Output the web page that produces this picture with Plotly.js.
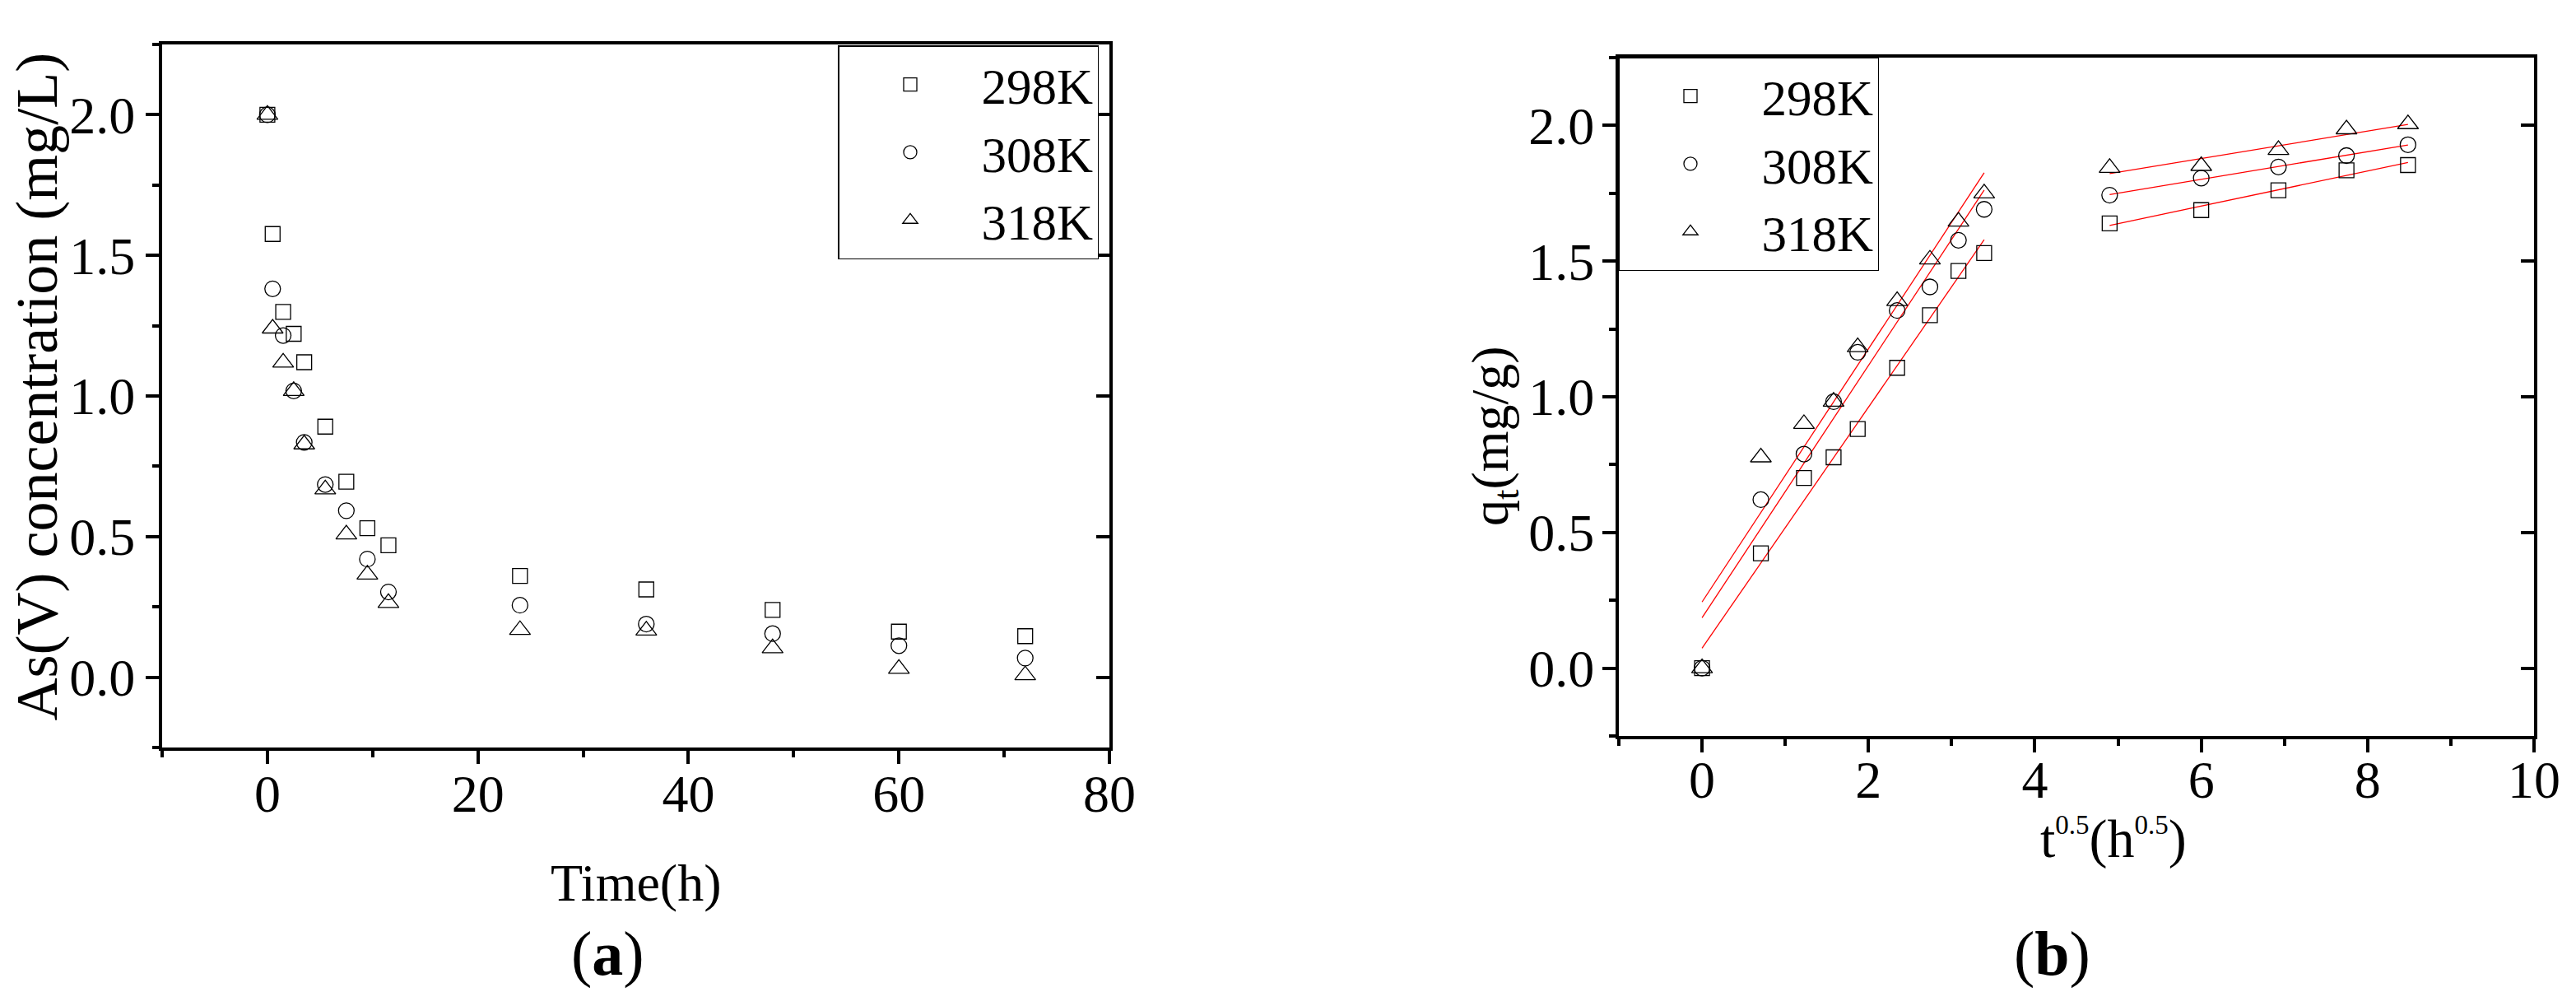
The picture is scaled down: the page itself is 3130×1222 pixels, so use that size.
<!DOCTYPE html>
<html>
<head>
<meta charset="utf-8">
<script src="https://cdn.plot.ly/plotly-3.0.1.min.js"></script>
<style>html,body{margin:0;padding:0;background:#fff;} #chart{width:3130px;height:1222px;}</style>
</head>
<body>
<div id="chart"></div>
<script>
// ---- data (a): As(V) concentration vs time ----
const timeH = [0, 0.5, 1.5, 2.5, 3.5, 5.5, 7.5, 9.5, 11.5, 24, 36, 48, 60, 72];
const conc298 = [2.0, 1.576, 1.299, 1.221, 1.120, 0.891, 0.695, 0.530, 0.469, 0.360, 0.312, 0.239, 0.162, 0.146];
const conc308 = [2.0, 1.381, 1.215, 1.018, 0.835, 0.685, 0.592, 0.420, 0.303, 0.256, 0.189, 0.155, 0.112, 0.068];
const conc318 = [2.0, 1.240, 1.119, 1.018, 0.828, 0.668, 0.508, 0.365, 0.264, 0.168, 0.166, 0.103, 0.030, 0.007];

// ---- data (b): intraparticle diffusion, qt vs t^0.5 ----
const sqrtT = [0, 0.707, 1.225, 1.581, 1.871, 2.345, 2.739, 3.082, 3.391, 4.899, 6.0, 6.928, 7.746, 8.485];
const q298 = [0, 0.423, 0.701, 0.777, 0.881, 1.107, 1.301, 1.464, 1.530, 1.639, 1.688, 1.761, 1.835, 1.854];
const q308 = [0, 0.621, 0.789, 0.982, 1.164, 1.318, 1.405, 1.577, 1.691, 1.743, 1.806, 1.847, 1.889, 1.929];
const q318 = [0, 0.777, 0.900, 0.982, 1.183, 1.353, 1.506, 1.646, 1.750, 1.844, 1.851, 1.910, 1.986, 2.005];

const seriesNames = ['298K', '308K', '318K'];
const stage1 = [0, 9];   // index range (start, end exclusive) of first linear stage
const stage2 = [9, 14];  // second linear stage

const FONT = 'Liberation Serif, Times New Roman, serif';
const symbols = ['square-open', 'circle-open', 'triangle-up-open'];
const sizes = [18, 19, 22];

function linFit(xs, ys, range) {
  const x = xs.slice(range[0], range[1]);
  const y = ys.slice(range[0], range[1]);
  const n = x.length;
  const mx = x.reduce((a, b) => a + b, 0) / n;
  const my = y.reduce((a, b) => a + b, 0) / n;
  let sxy = 0, sxx = 0;
  for (let i = 0; i < n; i++) { sxy += (x[i] - mx) * (y[i] - my); sxx += (x[i] - mx) * (x[i] - mx); }
  const b = sxy / sxx, a = my - b * mx;
  const x0 = Math.min(...x), x1 = Math.max(...x);
  return { x: [x0, x1], y: [a + b * x0, a + b * x1] };
}

const traces = [];
[conc298, conc308, conc318].forEach((c, i) => {
  traces.push({
    type: 'scatter', mode: 'markers', x: timeH, y: c, name: seriesNames[i],
    xaxis: 'x', yaxis: 'y', legend: 'legend', cliponaxis: false,
    marker: { symbol: symbols[i], size: sizes[i], color: 'black', line: { width: 1.3, color: 'black' } }
  });
});
const qSets = [q298, q308, q318];
qSets.forEach((q, i) => {
  [stage1, stage2].forEach(r => {
    const f = linFit(sqrtT, q, r);
    traces.push({
      type: 'scatter', mode: 'lines', x: f.x, y: f.y, showlegend: false, hoverinfo: 'skip',
      xaxis: 'x2', yaxis: 'y2', line: { color: 'red', width: 1.3 }
    });
  });
});
qSets.forEach((q, i) => {
  traces.push({
    type: 'scatter', mode: 'markers', x: sqrtT, y: q, name: seriesNames[i],
    xaxis: 'x2', yaxis: 'y2', legend: 'legend2', cliponaxis: false,
    marker: { symbol: symbols[i], size: sizes[i], color: 'black', line: { width: 1.3, color: 'black' } }
  });
});
// empty carriers so the right-hand (inward tick) axes get drawn
traces.push({ type: 'scatter', mode: 'markers', x: [], y: [], xaxis: 'x', yaxis: 'y3', showlegend: false, hoverinfo: 'skip' });
traces.push({ type: 'scatter', mode: 'markers', x: [], y: [], xaxis: 'x2', yaxis: 'y4', showlegend: false, hoverinfo: 'skip' });

const W = 3130, H = 1222;
const px = v => v / W;
const py = v => 1 - v / H;

function xAxis(domain, range, dtick, minorDtick, anchor, standoff) {
  return {
    domain: domain, range: range, anchor: anchor, dtick: dtick, tick0: 0,
    showline: true, linewidth: 4, linecolor: 'black', mirror: true,
    ticks: 'outside', ticklen: 16, tickwidth: 4, tickcolor: 'black',
    minor: { dtick: minorDtick, tick0: 0, ticks: 'outside', ticklen: 8, tickwidth: 4, tickcolor: 'black', showgrid: false },
    showgrid: false, zeroline: false, fixedrange: true, ticklabelstandoff: standoff,
    tickfont: { family: FONT, size: 64, color: 'black' }
  };
}
function yAxis(domain, anchor, standoff) {
  return {
    domain: domain, range: [-0.25, 2.25], anchor: anchor, dtick: 0.5, tick0: 0, tickformat: '.1f',
    showline: true, linewidth: 4, linecolor: 'black', mirror: true,
    ticks: 'outside', ticklen: 16, tickwidth: 4, tickcolor: 'black',
    minor: { dtick: 0.25, tick0: 0, ticks: 'outside', ticklen: 8, tickwidth: 4, tickcolor: 'black', showgrid: false },
    showgrid: false, zeroline: false, fixedrange: true, ticklabelstandoff: standoff,
    tickfont: { family: FONT, size: 64, color: 'black' }
  };
}
function yMirror(over, anchor) {
  return {
    overlaying: over, anchor: anchor, side: 'right', range: [-0.25, 2.25], dtick: 0.5, tick0: 0,
    ticks: 'inside', ticklen: 16, tickwidth: 4, tickcolor: 'black',
    showticklabels: false, showline: false, showgrid: false, zeroline: false, fixedrange: true
  };
}

const dom1x = [px(197), px(1348)], dom1y = [py(908), py(54)];
const dom2x = [px(1967), px(3079)], dom2y = [py(894), py(70)];

const legendBase = {
  xanchor: 'left', yanchor: 'top', bgcolor: 'white', bordercolor: 'black', borderwidth: 1.5,
  font: { family: FONT, size: 61, color: 'black' }, itemwidth: 163, tracegroupgap: 0
};

const layout = {
  width: W, height: H,
  margin: { l: 0, r: 0, t: 0, b: 0 },
  paper_bgcolor: 'white', plot_bgcolor: 'white',
  showlegend: true,
  font: { family: FONT, color: 'black' },
  xaxis: xAxis(dom1x, [-10, 80], 20, 10, 'y', -19),
  yaxis: yAxis(dom1y, 'x', 0),
  yaxis3: yMirror('y', 'x'),
  xaxis2: xAxis(dom2x, [-1, 10], 2, 1, 'y2', -22),
  yaxis2: yAxis(dom2y, 'x2', -3),
  yaxis4: yMirror('y2', 'x2'),
  legend: Object.assign({}, legendBase, { x: px(1018), y: py(55) }),
  legend2: Object.assign({}, legendBase, { x: px(1966), y: py(69) }),
  annotations: [
    { text: 'As(V) concentration (mg/L)', xref: 'paper', yref: 'paper', x: px(44.5), y: py(470),
      textangle: -90, xanchor: 'center', yanchor: 'middle', showarrow: false,
      font: { family: FONT, size: 72, color: 'black' } },
    { text: 'Time(h)', xref: 'paper', yref: 'paper', x: px(772), y: py(1072),
      xanchor: 'center', yanchor: 'middle', showarrow: false,
      font: { family: FONT, size: 64, color: 'black' } },
    { text: '(<b>a</b>)', xref: 'paper', yref: 'paper', x: px(738), y: py(1158),
      xanchor: 'center', yanchor: 'middle', showarrow: false,
      font: { family: FONT, size: 76, color: 'black' } },
    { text: 'q<sub>t</sub>(mg/g)', xref: 'paper', yref: 'paper', x: px(1815), y: py(530),
      textangle: -90, xanchor: 'center', yanchor: 'middle', showarrow: false,
      font: { family: FONT, size: 64, color: 'black' } },
    { text: 't<sup><span style="font-size:33px">0.5</span></sup>(h<sup><span style="font-size:33px">0.5</span></sup>)',
      xref: 'paper', yref: 'paper', x: px(2568), y: py(1019),
      xanchor: 'center', yanchor: 'middle', showarrow: false,
      font: { family: FONT, size: 66, color: 'black' } },
    { text: '(<b>b</b>)', xref: 'paper', yref: 'paper', x: px(2493), y: py(1158),
      xanchor: 'center', yanchor: 'middle', showarrow: false,
      font: { family: FONT, size: 76, color: 'black' } }
  ]
};

Plotly.newPlot('chart', traces, layout, { staticPlot: true, displayModeBar: false });
</script>
</body>
</html>
